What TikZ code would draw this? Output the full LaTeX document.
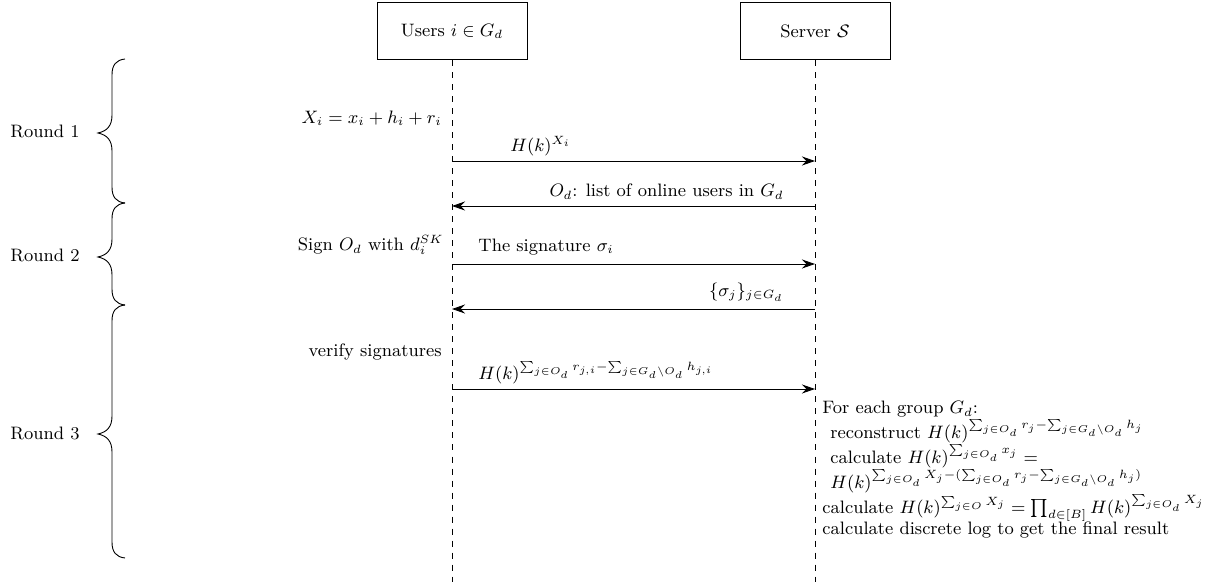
\documentclass[tikz,border=0pt]{standalone}
\usepackage{amsmath,amssymb}
\usetikzlibrary{arrows.meta}
\tikzset{
  actor/.style={draw, line width=0.5pt, minimum width=75pt, minimum height=28.5pt, inner sep=2pt},
  lifeline/.style={dashed, line width=0.4pt},
  msg/.style={line width=0.45pt, -{Stealth[length=6.5pt,width=4.5pt,inset=2.2pt]}},
  lbl/.style={inner sep=0pt, anchor=base west},
  lblr/.style={inner sep=0pt, anchor=base east},
  bracestyle/.style={line width=0.45pt}
}
\newcommand\roundbrace[3]{%
  \draw[bracestyle] (125,#1) .. controls (116,#1+1) and (112,#1+6) .. (112,#1+16)
    -- (112,#2-18) .. controls (112,#2-7) and (107,#2-2) .. (98,#2)
    .. controls (107,#2+2) and (112,#2+7) .. (112,#2+18)
    -- (112,#3-16) .. controls (112,#3-6) and (116,#3-1) .. (125,#3);}
\begin{document}
\begin{tikzpicture}[x=0.5pt,y=-0.5pt,font=\fontsize{9}{11}\selectfont]
\useasboundingbox (0,0) rectangle (1215,582);
% actors
\node[actor] (users) at (452,31.5) {Users $i\in G_d$};
\node[actor] (server) at (815,31.5) {Server $\mathcal{S}$};
\coordinate (uend) at (452,582);
\coordinate (send) at (815,582);
\draw[lifeline] (users.south) -- (uend);
\draw[lifeline] (server.south) -- (send);
% message anchor points
\foreach \n/\y in {1/161,2/206,3/264,4/309,5/389}{
  \coordinate (u\n) at (452,\y);
  \coordinate (s\n) at (815,\y);
}
\draw[msg] (u1) -- (s1);
\draw[msg] (s2) -- (u2);
\draw[msg] (u3) -- (s3);
\draw[msg] (s4) -- (u4);
\draw[msg] (u5) -- (s5);
% message labels
\node[lbl] (m1) at (510,152) {$H(k)^{X_i}$};
\node[lblr] (m2) at (784,197) {$O_d$: list of online users in $G_d$};
\node[lbl] (m3) at (478,252) {The signature $\sigma_i$};
\node[lblr] (m4) at (784,297) {$\{\sigma_j\}_{j\in G_d}$};
\node[lbl] (m5) at (478,380) {$H(k)^{\sum_{j\in O_d} r_{j,i}-\sum_{j\in G_d\setminus O_d} h_{j,i}}$};
% user side notes
\node[lblr] (n1) at (442,124) {$X_i=x_i+h_i+r_i$};
\node[lblr] (n2) at (444,251) {Sign $O_d$ with $d_i^{SK}$};
\node[lblr] (n3) at (442,357) {verify signatures};
% server side notes
\node[lbl] (p1) at (822,414) {For each group $G_d$:};
\node[lbl] (p2) at (830,438) {reconstruct $H(k)^{\sum_{j\in O_d} r_j-\sum_{j\in G_d\setminus O_d} h_j}$};
\node[lbl] (p3) at (830,463) {calculate $H(k)^{\sum_{j\in O_d} x_j}=$};
\node[lbl] (p4) at (830,488) {$H(k)^{\sum_{j\in O_d} X_j-(\sum_{j\in O_d} r_j-\sum_{j\in G_d\setminus O_d} h_j)}$};
\node[lbl] (p5) at (822,513) {calculate $H(k)^{\sum_{j\in O} X_j}=\prod_{d\in[B]} H(k)^{\sum_{j\in O_d} X_j}$};
\node[lbl] (p6) at (822,534) {calculate discrete log to get the final result};
% rounds
\roundbrace{59}{133}{203}
\roundbrace{203}{257}{305}
\roundbrace{305}{434}{558}
\node[lbl] (r1) at (10,138) {Round 1};
\node[lbl] (r2) at (10,262) {Round 2};
\node[lbl] (r3) at (10,439) {Round 3};
\end{tikzpicture}
\end{document}
